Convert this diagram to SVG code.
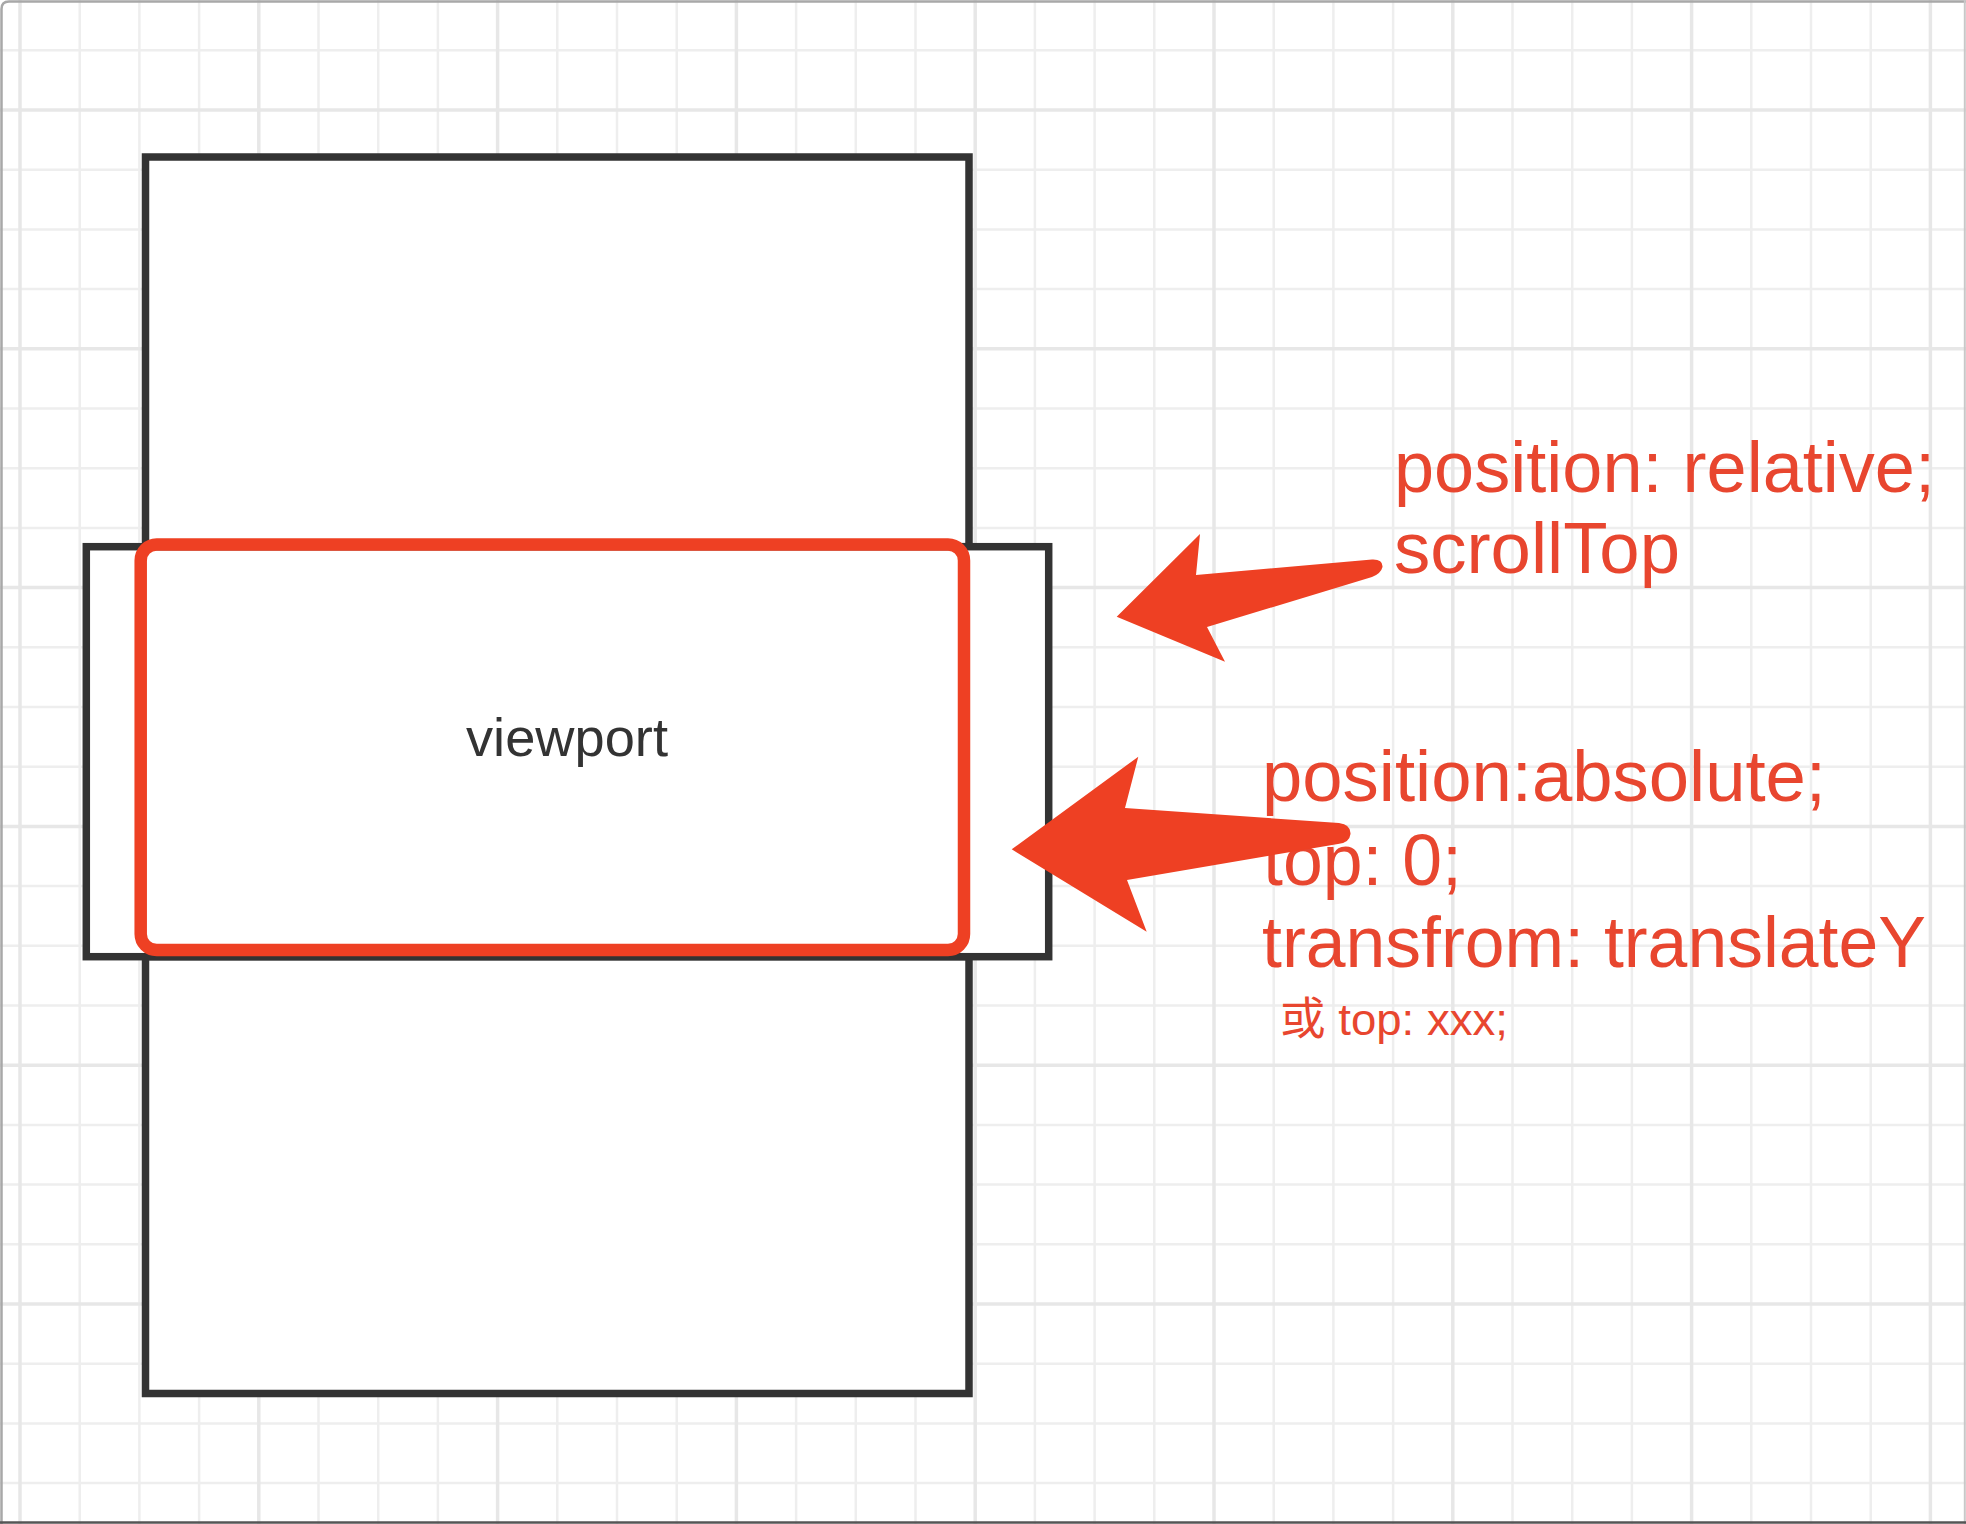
<svg xmlns="http://www.w3.org/2000/svg" width="1966" height="1524" viewBox="0 0 1966 1524">
<style>
.gmin{fill:none;stroke:#eeeeee;stroke-width:2.5}
.gmaj{fill:none;stroke:#e7e7e7;stroke-width:3.5}
.box{fill:#ffffff;stroke:#333333;stroke-width:7.5;stroke-linejoin:miter}
.vp{fill:none;stroke:#ee4023;stroke-width:12.5}
.lbl{font-family:"Liberation Sans","Noto Sans CJK SC",sans-serif;fill:#e8462f}
.dark{font-family:"Liberation Sans","Noto Sans",sans-serif;fill:#333333}
.arrow{fill:#ee4023;stroke:none}
</style>
<rect x="0" y="0" width="1966" height="1524" fill="#ffffff"/>
<g id="grid">
<path class="gmin" d="M79.7,0V1524M139.4,0V1524M199.1,0V1524M318.5,0V1524M378.2,0V1524M437.9,0V1524M557.3,0V1524M617,0V1524M676.7,0V1524M796.1,0V1524M855.8,0V1524M915.5,0V1524M1034.9,0V1524M1094.6,0V1524M1154.3,0V1524M1273.7,0V1524M1333.4,0V1524M1393.1,0V1524M1512.5,0V1524M1572.2,0V1524M1631.9,0V1524M1751.3,0V1524M1811,0V1524M1870.7,0V1524M0,50.3H1966M0,169.7H1966M0,229.4H1966M0,289.1H1966M0,408.5H1966M0,468.2H1966M0,527.9H1966M0,647.3H1966M0,707H1966M0,766.7H1966M0,886.1H1966M0,945.8H1966M0,1005.5H1966M0,1124.9H1966M0,1184.6H1966M0,1244.3H1966M0,1363.7H1966M0,1423.4H1966M0,1483.1H1966"/>
<path class="gmaj" d="M20,0V1524M258.8,0V1524M497.6,0V1524M736.4,0V1524M975.2,0V1524M1214,0V1524M1452.8,0V1524M1691.6,0V1524M1930.4,0V1524M0,110H1966M0,348.8H1966M0,587.6H1966M0,826.4H1966M0,1065.2H1966M0,1304H1966"/>
</g>
<g id="frame" fill="none">
<path d="M1.5,1524V9Q1.5,1.5 9,1.5H1966" stroke="#a8a8a8" stroke-width="2.5"/>
<path d="M1964.8,0V1524" stroke="#c8c8c8" stroke-width="2"/>
<path d="M0,1522.6H1966" stroke="#555555" stroke-width="2.5"/>
</g>
<g id="node-top-box">
<rect class="box" x="145.5" y="157" width="823.5" height="389.7"/>
</g>
<g id="node-bottom-box">
<rect class="box" x="145.5" y="956.7" width="823.5" height="436.8"/>
</g>
<g id="node-viewport-frame">
<rect class="box" x="86.3" y="546.7" width="962.4" height="410"/>
</g>
<g id="node-viewport">
<rect class="vp" x="140.7" y="544.5" width="823.3" height="405.5" rx="16" ry="16"/>
<text class="dark" x="466" y="755.7" font-size="53" textLength="202" lengthAdjust="spacingAndGlyphs">viewport</text>
</g>
<g id="label-relative">
<text class="lbl" x="1394" y="492" font-size="72" textLength="541" lengthAdjust="spacingAndGlyphs">position: relative;</text>
<text class="lbl" x="1394" y="573" font-size="72" textLength="286" lengthAdjust="spacingAndGlyphs">scrollTop</text>
</g>
<g id="label-absolute">
<text class="lbl" x="1262" y="800.5" font-size="72" textLength="564" lengthAdjust="spacingAndGlyphs">position:absolute;</text>
<text class="lbl" x="1263" y="885" font-size="72" textLength="199" lengthAdjust="spacingAndGlyphs">top: 0;</text>
<text class="lbl" x="1262" y="967" font-size="72" textLength="664" lengthAdjust="spacingAndGlyphs">transfrom: translateY</text>
<text class="lbl" x="1280" y="1035" font-size="45" textLength="228" lengthAdjust="spacingAndGlyphs">或 top: xxx;</text>
</g>
<g id="connectors">
<path class="arrow" d="M1116.7,616.7 L1200,534 L1196,575 L1372,559.5 Q1383,559 1382.5,567 Q1381,573.5 1372,577 L1207,627 L1225,661.7 Z"/>
<path class="arrow" d="M1011.7,849.3 L1138.3,756.7 L1125,808 L1339,823 Q1351,824.5 1350.5,834 Q1349.5,843 1338,844 L1127,880 L1146.7,931.7 Z"/>
</g>
</svg>
